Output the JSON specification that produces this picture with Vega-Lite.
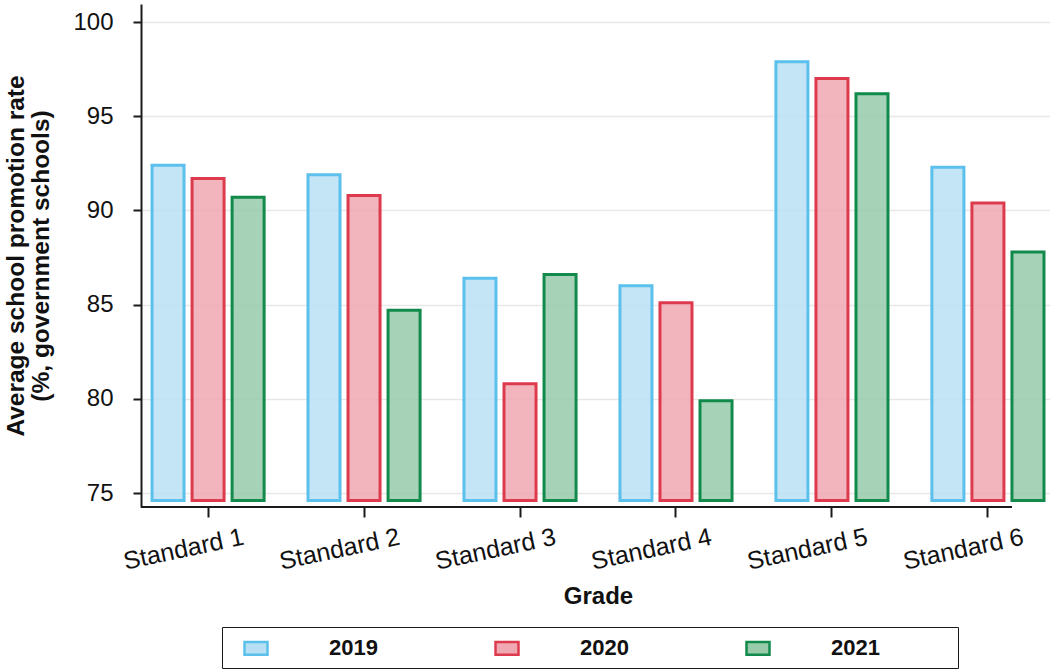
{
  "$schema": "https://vega.github.io/schema/vega-lite/v6.json",
  "width": 871,
  "height": 503,
  "padding": {"left": 3, "top": 4, "right": 0, "bottom": 0},
  "background": "white",
  "config": {
    "view": {"stroke": null},
    "font": "Liberation Sans",
    "axis": {"labelColor": "#111111", "titleColor": "#111111"}
  },
  "data": {
    "values": [
      {"grade": "Standard 1", "year": "2019", "rate": 92.4},
      {"grade": "Standard 1", "year": "2020", "rate": 91.7},
      {"grade": "Standard 1", "year": "2021", "rate": 90.7},
      {"grade": "Standard 2", "year": "2019", "rate": 91.9},
      {"grade": "Standard 2", "year": "2020", "rate": 90.8},
      {"grade": "Standard 2", "year": "2021", "rate": 84.7},
      {"grade": "Standard 3", "year": "2019", "rate": 86.4},
      {"grade": "Standard 3", "year": "2020", "rate": 80.8},
      {"grade": "Standard 3", "year": "2021", "rate": 86.6},
      {"grade": "Standard 4", "year": "2019", "rate": 86.0},
      {"grade": "Standard 4", "year": "2020", "rate": 85.1},
      {"grade": "Standard 4", "year": "2021", "rate": 79.9},
      {"grade": "Standard 5", "year": "2019", "rate": 97.9},
      {"grade": "Standard 5", "year": "2020", "rate": 97.0},
      {"grade": "Standard 5", "year": "2021", "rate": 96.2},
      {"grade": "Standard 6", "year": "2019", "rate": 92.3},
      {"grade": "Standard 6", "year": "2020", "rate": 90.4},
      {"grade": "Standard 6", "year": "2021", "rate": 87.8}
    ]
  },
  "layer": [
    {
      "mark": {"type": "bar", "strokeWidth": 3, "fillOpacity": 0.85},
      "encoding": {
        "x": {
          "field": "grade",
          "type": "nominal",
          "sort": null,
          "scale": {"range": [0, 914], "paddingInner": 0.23, "paddingOuter": 0.045},
          "axis": {
            "title": "Grade",
            "titleFontSize": 24,
            "titleFontWeight": "bold",
            "titlePadding": 10,
            "domain": false,
            "grid": false,
            "ticks": true,
            "tickSize": 10,
            "tickWidth": 2,
            "tickColor": "#1a1a1a",
            "labelAngle": -12,
            "labelAlign": "center",
            "labelBaseline": "top",
            "labelOffset": -27,
            "labelPadding": 20,
            "labelFontSize": 25
          }
        },
        "xOffset": {
          "field": "year",
          "type": "nominal",
          "scale": {"paddingInner": 0.2, "paddingOuter": 0.1}
        },
        "y": {
          "field": "rate",
          "type": "quantitative",
          "scale": {"domain": [74.26, 100.96], "nice": false, "zero": false},
          "axis": {
            "title": ["Average school promotion rate", "(%, government schools)"],
            "titleFontSize": 24.5,
            "titleFontWeight": "bold",
            "titleLineHeight": 25,
            "titlePadding": 19,
            "values": [75, 80, 85, 90, 95, 100],
            "labelFontSize": 24,
            "labelPadding": 20,
            "tickSize": 8,
            "tickWidth": 2,
            "tickColor": "#1a1a1a",
            "domainColor": "#1a1a1a",
            "domainWidth": 2,
            "gridColor": "#e8e8e8",
            "gridWidth": 1.5
          }
        },
        "y2": {"datum": 74.6},
        "fill": {
          "field": "year",
          "type": "nominal",
          "scale": {"range": ["#b8e0f4", "#f0a8b2", "#97cbaa"]},
          "legend": {
            "title": " ",
            "titleOrient": "right",
            "titlePadding": 70,
            "orient": "none",
            "legendX": 81,
            "legendY": 623,
            "direction": "horizontal",
            "symbolType": "M-1,-0.55H1V0.55H-1Z",
            "symbolSize": 529,
            "symbolStrokeWidth": 2.5,
            "symbolOffset": 13,
            "labelFontSize": 22,
            "labelFontWeight": "bold",
            "labelColor": "#111111",
            "labelOffset": 60,
            "columnPadding": 103,
            "padding": 8,
            "strokeColor": "#1a1a1a"
          }
        },
        "stroke": {
          "field": "year",
          "type": "nominal",
          "scale": {"range": ["#5bc0eb", "#de3a4e", "#128a4b"]},
          "legend": {
            "title": " ",
            "titleOrient": "right",
            "titlePadding": 70,
            "orient": "none",
            "legendX": 81,
            "legendY": 623,
            "direction": "horizontal",
            "symbolType": "M-1,-0.55H1V0.55H-1Z",
            "symbolSize": 529,
            "symbolStrokeWidth": 2.5,
            "symbolOffset": 13,
            "labelFontSize": 22,
            "labelFontWeight": "bold",
            "labelColor": "#111111",
            "labelOffset": 60,
            "columnPadding": 103,
            "padding": 8,
            "strokeColor": "#1a1a1a"
          }
        }
      }
    },
    {
      "mark": {"type": "rule", "stroke": "#1a1a1a", "strokeWidth": 2},
      "encoding": {"y": {"datum": 74.26}}
    }
  ]
}
